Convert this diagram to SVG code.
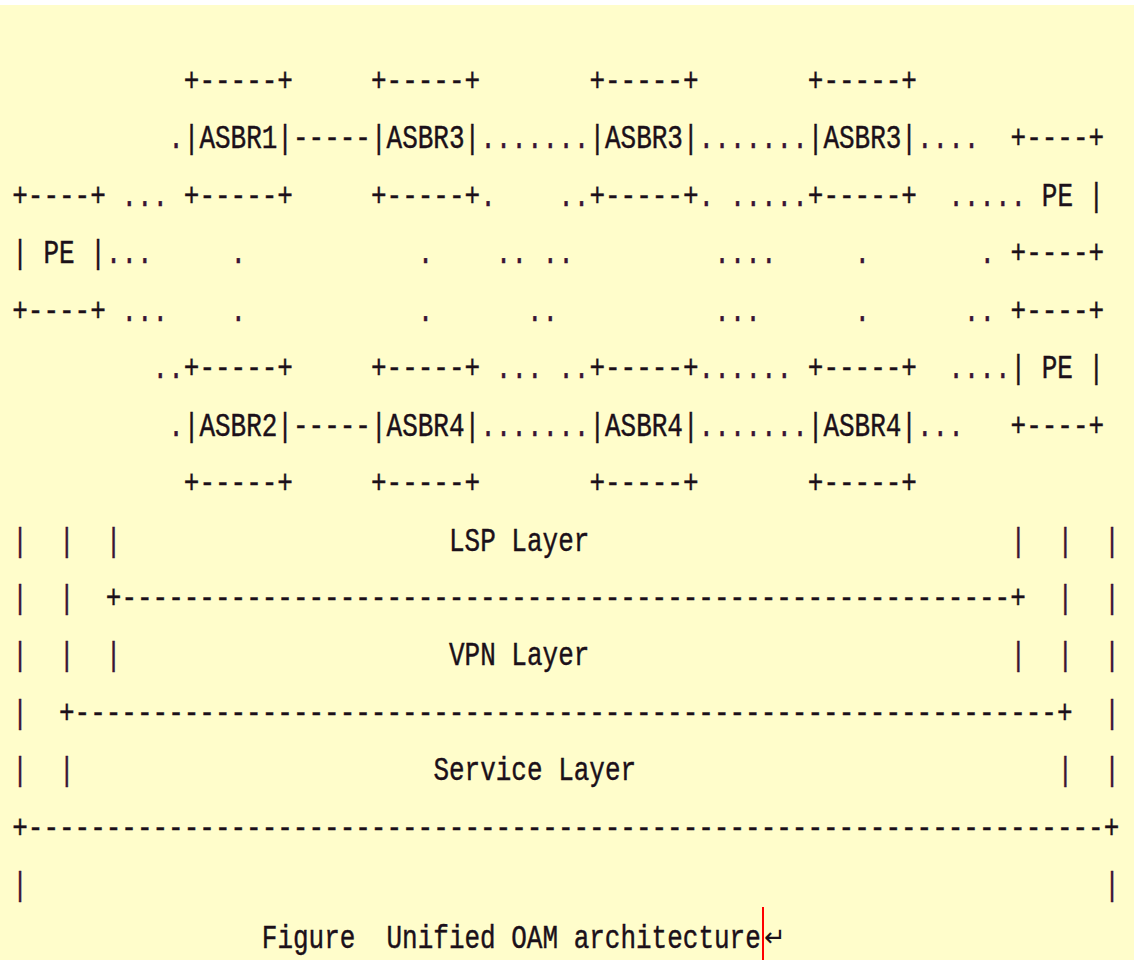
<svg xmlns="http://www.w3.org/2000/svg" width="1134" height="960" viewBox="0 0 1134 960">
<style>
text{white-space:pre}
.t{font-family:"Liberation Mono","DejaVu Sans Mono",monospace;font-size:26px;fill:#1b1019;stroke:#1b1019;stroke-width:0.35}
.d{font-family:"Liberation Mono","DejaVu Sans Mono",monospace;font-size:26px;fill:#3a1434;stroke:#3a1434;stroke-width:0.3}
</style>
<rect x="0" y="0" width="1134" height="960" fill="#ffffff"/>
<rect x="0" y="5" width="1134" height="955" fill="#fffdcb"/>
<g id="diagram" transform="scale(1 1.2692)">
<g id="pe-left">
<text class="t" x="12.2" y="162.07">+----+</text>
<text class="t" x="12.2" y="207.38" xml:space="preserve">| PE |</text>
<text class="t" x="12.2" y="252.68">+----+</text>
</g>
<g id="asbr1">
<text class="t" x="183.8" y="71.54">+-----+</text>
<text class="t" x="183.8" y="116.85">|ASBR1|</text>
<text class="t" x="183.8" y="162.07">+-----+</text>
</g>
<g id="asbr3-a">
<text class="t" x="371" y="71.54">+-----+</text>
<text class="t" x="371" y="116.85">|ASBR3|</text>
<text class="t" x="371" y="162.07">+-----+</text>
</g>
<g id="asbr3-b">
<text class="t" x="589.4" y="71.54">+-----+</text>
<text class="t" x="589.4" y="116.85">|ASBR3|</text>
<text class="t" x="589.4" y="162.07">+-----+</text>
</g>
<g id="asbr3-c">
<text class="t" x="807.8" y="71.54">+-----+</text>
<text class="t" x="807.8" y="116.85">|ASBR3|</text>
<text class="t" x="807.8" y="162.07">+-----+</text>
</g>
<g id="pe-right-top">
<text class="t" x="1010.6" y="116.85">+----+</text>
<text class="t" x="1041.8" y="162.07" xml:space="preserve">PE |</text>
<text class="t" x="1010.6" y="207.38">+----+</text>
</g>
<g id="pe-right-bottom">
<text class="t" x="1010.6" y="252.68">+----+</text>
<text class="t" x="1010.6" y="297.98" xml:space="preserve">| PE |</text>
<text class="t" x="1010.6" y="343.21">+----+</text>
</g>
<g id="asbr2">
<text class="t" x="183.8" y="297.98">+-----+</text>
<text class="t" x="183.8" y="343.21">|ASBR2|</text>
<text class="t" x="183.8" y="388.51">+-----+</text>
</g>
<g id="asbr4-a">
<text class="t" x="371" y="297.98">+-----+</text>
<text class="t" x="371" y="343.21">|ASBR4|</text>
<text class="t" x="371" y="388.51">+-----+</text>
</g>
<g id="asbr4-b">
<text class="t" x="589.4" y="297.98">+-----+</text>
<text class="t" x="589.4" y="343.21">|ASBR4|</text>
<text class="t" x="589.4" y="388.51">+-----+</text>
</g>
<g id="asbr4-c">
<text class="t" x="807.8" y="297.98">+-----+</text>
<text class="t" x="807.8" y="343.21">|ASBR4|</text>
<text class="t" x="807.8" y="388.51">+-----+</text>
</g>
<g id="connectors">
<text class="d" x="168.2" y="116.85">.</text>
<text class="t" x="293" y="116.85">-----</text>
<text class="d" x="480.2" y="116.85">.......</text>
<text class="d" x="698.6" y="116.85">.......</text>
<text class="d" x="917" y="116.85">....</text>
<text class="d" x="121.4" y="162.07">...</text>
<text class="d" x="480.2" y="162.07">.</text>
<text class="d" x="558.2" y="162.07">..</text>
<text class="d" x="698.6" y="162.07">.</text>
<text class="d" x="729.8" y="162.07">.....</text>
<text class="d" x="948.2" y="162.07">.....</text>
<text class="d" x="105.8" y="207.38">...</text>
<text class="d" x="230.6" y="207.38">.</text>
<text class="d" x="417.8" y="207.38">.</text>
<text class="d" x="495.8" y="207.38">..</text>
<text class="d" x="542.6" y="207.38">..</text>
<text class="d" x="714.2" y="207.38">....</text>
<text class="d" x="854.6" y="207.38">.</text>
<text class="d" x="979.4" y="207.38">.</text>
<text class="d" x="121.4" y="252.68">...</text>
<text class="d" x="230.6" y="252.68">.</text>
<text class="d" x="417.8" y="252.68">.</text>
<text class="d" x="527" y="252.68">..</text>
<text class="d" x="714.2" y="252.68">...</text>
<text class="d" x="854.6" y="252.68">.</text>
<text class="d" x="963.8" y="252.68">..</text>
<text class="d" x="152.6" y="297.98">..</text>
<text class="d" x="495.8" y="297.98">...</text>
<text class="d" x="558.2" y="297.98">..</text>
<text class="d" x="698.6" y="297.98">......</text>
<text class="d" x="948.2" y="297.98">....</text>
<text class="d" x="168.2" y="343.21">.</text>
<text class="t" x="293" y="343.21">-----</text>
<text class="d" x="480.2" y="343.21">.......</text>
<text class="d" x="698.6" y="343.21">.......</text>
<text class="d" x="917" y="343.21">...</text>
</g>
<g id="lsp-layer">
<text class="t" x="449" y="433.82" xml:space="preserve">LSP Layer</text>
<text class="d" x="105.8" y="433.82">|</text>
<text class="d" x="1010.6" y="433.82">|</text>
<text class="t" x="105.8" y="479.04">+---------------------------------------------------------+</text>
<text class="d" x="105.8" y="524.35">|</text>
<text class="d" x="1010.6" y="524.35">|</text>
</g>
<g id="vpn-layer">
<text class="t" x="449" y="524.35" xml:space="preserve">VPN Layer</text>
<text class="d" x="59" y="433.82">|</text>
<text class="d" x="1057.4" y="433.82">|</text>
<text class="d" x="59" y="479.04">|</text>
<text class="d" x="1057.4" y="479.04">|</text>
<text class="d" x="59" y="524.35">|</text>
<text class="d" x="1057.4" y="524.35">|</text>
<text class="t" x="59" y="569.65">+---------------------------------------------------------------+</text>
<text class="d" x="59" y="614.87">|</text>
<text class="d" x="1057.4" y="614.87">|</text>
</g>
<g id="service-layer">
<text class="t" x="433.4" y="614.87" xml:space="preserve">Service Layer</text>
<text class="d" x="12.2" y="433.82">|</text>
<text class="d" x="1104.2" y="433.82">|</text>
<text class="d" x="12.2" y="479.04">|</text>
<text class="d" x="1104.2" y="479.04">|</text>
<text class="d" x="12.2" y="524.35">|</text>
<text class="d" x="1104.2" y="524.35">|</text>
<text class="d" x="12.2" y="569.65">|</text>
<text class="d" x="1104.2" y="569.65">|</text>
<text class="d" x="12.2" y="614.87">|</text>
<text class="d" x="1104.2" y="614.87">|</text>
<text class="t" x="12.2" y="660.18">+---------------------------------------------------------------------+</text>
<text class="d" x="12.2" y="705.48">|</text>
<text class="d" x="1104.2" y="705.48">|</text>
</g>
<g id="caption">
<text class="t" x="261.8" y="746.9" xml:space="preserve">Figure  Unified OAM architecture</text>
</g>
</g>
<g id="caption-marks">
<text x="764" y="946" font-family="DejaVu Sans, sans-serif" font-size="26" fill="#1b1019">↵</text>
<line x1="763" y1="907" x2="763" y2="960" stroke="#ff0000" stroke-width="2"/>
</g>
</svg>
